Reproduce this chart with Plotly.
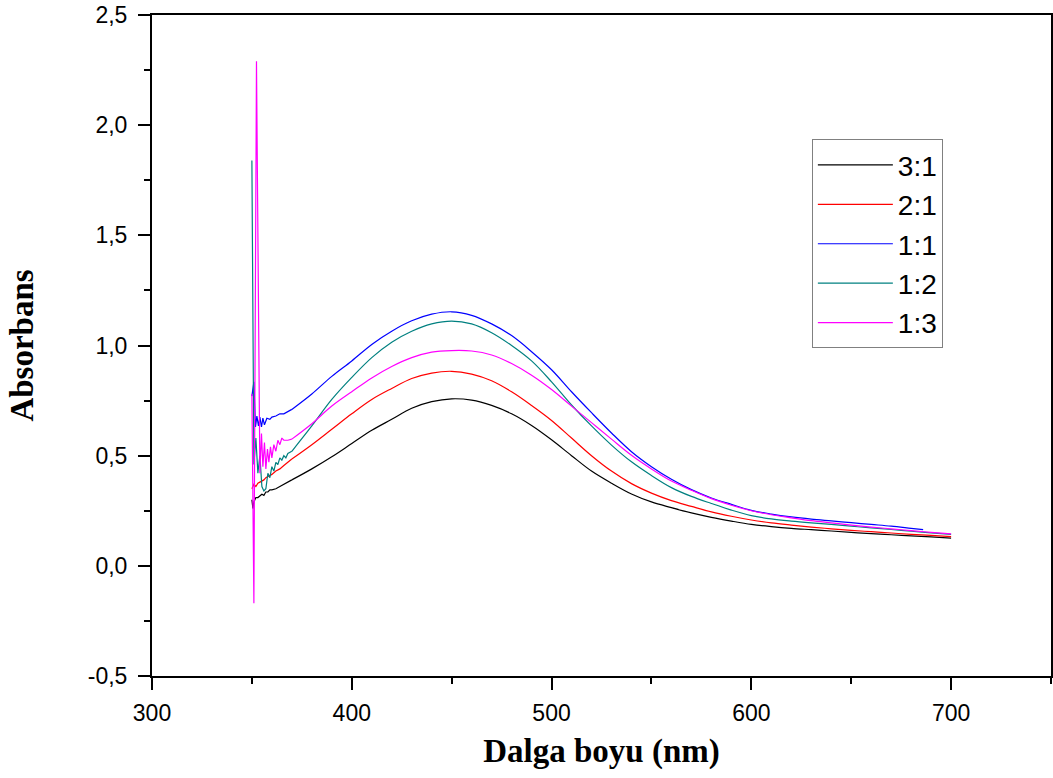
import plotly.graph_objects as go

# ---------------- data ----------------
series_names = ["3:1", "2:1", "1:1", "1:2", "1:3"]
series_colors = ["#000000", "#FF0000", "#0000FF", "#008080", "#FF00FF"]

# common wavelength grid for the smooth part (nm)
tail_wl = [370, 380, 390, 400, 410, 420, 430, 440, 450, 460, 470, 480, 490, 500,
           510, 520, 530, 540, 550, 560, 570, 580, 590, 600, 610, 620, 630, 640,
           650, 660, 670, 680, 690, 700]
blue_tail_wl = [370, 380, 390, 400, 410, 420, 430, 440, 450, 460, 470, 480, 490, 500,
                510, 520, 530, 540, 550, 560, 570, 580, 590, 600, 610, 620, 630, 640,
                650, 660, 670, 680, 686]

# 3:1
black_head_wl = [350, 350.5, 351, 352, 353, 354, 355, 356, 357, 358, 359, 360, 362, 364, 366, 368]
black_head = [0.30, 0.26, 0.29, 0.31, 0.31, 0.32, 0.325, 0.32, 0.335, 0.335, 0.345, 0.345, 0.35, 0.36, 0.37, 0.38]
black_tail = [0.39, 0.44, 0.495, 0.555, 0.615, 0.665, 0.715, 0.745, 0.758, 0.752, 0.728, 0.69,
              0.637, 0.572, 0.50, 0.43, 0.375, 0.326, 0.29, 0.264, 0.24, 0.22, 0.203, 0.188,
              0.178, 0.17, 0.164, 0.158, 0.152, 0.146, 0.141, 0.136, 0.131, 0.126]

# 2:1
red_head_wl = [350, 351, 352, 353, 354, 355, 356, 357, 358, 360, 362, 364, 366, 368]
red_head = [0.35, 0.37, 0.36, 0.375, 0.38, 0.385, 0.39, 0.40, 0.405, 0.415, 0.43, 0.44, 0.455, 0.47]
red_tail = [0.485, 0.55, 0.62, 0.69, 0.755, 0.805, 0.85, 0.875, 0.883, 0.87, 0.84, 0.79,
            0.728, 0.66, 0.58, 0.50, 0.43, 0.373, 0.33, 0.296, 0.27, 0.245, 0.225, 0.208,
            0.195, 0.185, 0.176, 0.168, 0.161, 0.155, 0.149, 0.143, 0.138, 0.133]

# 1:1
blue_head_wl = [350, 351, 351.8, 352.5, 353.3, 354, 354.8, 355.5, 356.3, 357.5, 359, 360, 362, 364, 366, 368]
blue_head = [0.77, 0.835, 0.63, 0.68, 0.635, 0.675, 0.63, 0.67, 0.64, 0.67, 0.665, 0.675, 0.68, 0.69, 0.69, 0.70]
blue_tail = [0.71, 0.78, 0.86, 0.93, 1.005, 1.065, 1.112, 1.142, 1.153, 1.137, 1.098, 1.045,
             0.972, 0.89, 0.79, 0.695, 0.603, 0.518, 0.45, 0.393, 0.346, 0.308, 0.279, 0.252,
             0.235, 0.222, 0.212, 0.204, 0.196, 0.188, 0.18, 0.17, 0.164]

# 1:2
teal_head_wl = [350, 351, 352, 353, 354, 355, 356, 357, 358, 359, 360, 361, 362, 363, 364, 365, 366, 367, 368]
teal_head = [1.84, 0.46, 0.58, 0.42, 0.50, 0.36, 0.34, 0.35, 0.42, 0.40, 0.45, 0.43, 0.47, 0.46, 0.49, 0.48, 0.50, 0.49, 0.51]
teal_tail = [0.52, 0.635, 0.755, 0.855, 0.945, 1.015, 1.065, 1.098, 1.111, 1.098, 1.058, 1.0,
             0.93, 0.835, 0.73, 0.635, 0.548, 0.472, 0.41, 0.355, 0.315, 0.283, 0.253, 0.228,
             0.213, 0.203, 0.195, 0.188, 0.18, 0.172, 0.165, 0.157, 0.15, 0.143]

# 1:3
pink_head_wl = [350, 351, 352.3, 354, 354.8, 355.5, 356.3, 357, 357.8, 358.5, 359.3, 360, 361, 362, 363, 364, 365, 366, 368]
pink_head = [0.78, -0.17, 2.29, 0.42, 0.60, 0.45, 0.56, 0.44, 0.53, 0.47, 0.54, 0.49, 0.55, 0.52, 0.57, 0.55, 0.58, 0.57, 0.57]
pink_tail = [0.575, 0.645, 0.725, 0.79, 0.853, 0.905, 0.945, 0.97, 0.977, 0.975, 0.957, 0.918,
             0.865, 0.80, 0.725, 0.65, 0.575, 0.502, 0.44, 0.385, 0.343, 0.305, 0.275, 0.25,
             0.232, 0.218, 0.205, 0.195, 0.185, 0.176, 0.168, 0.16, 0.152, 0.145]

x_tick_vals = [300, 400, 500, 600, 700]
y_tick_vals = [-0.5, 0.0, 0.5, 1.0, 1.5, 2.0, 2.5]
y_tick_text = ["-0,5", "0,0", "0,5", "1,0", "1,5", "2,0", "2,5"]

heads_x = [black_head_wl, red_head_wl, blue_head_wl, teal_head_wl, pink_head_wl]
heads_y = [black_head, red_head, blue_head, teal_head, pink_head]
tails_x = [tail_wl, tail_wl, blue_tail_wl, tail_wl, tail_wl]
tails_y = [black_tail, red_tail, blue_tail, teal_tail, pink_tail]

# ---------------- figure ----------------
fig = go.Figure()
for name, color, hx, hy, tx, ty in zip(series_names, series_colors, heads_x, heads_y, tails_x, tails_y):
    # smooth band: spline through the read points (carries the legend entry)
    fig.add_trace(go.Scatter(x=tx, y=ty, mode="lines", name=name, legendgroup=name,
                             showlegend=True,
                             line=dict(color=color, width=1.2, shape="spline", smoothing=1.0)))
    # noisy start of the scan: straight segments; joined to first smooth point
    fig.add_trace(go.Scatter(x=hx + tx[:1], y=hy + ty[:1], mode="lines", name=name,
                             legendgroup=name, showlegend=False,
                             line=dict(color=color, width=1.2)))

tick_font = dict(family="Liberation Sans, Arial, sans-serif", size=23, color="black")
title_font = dict(family="Liberation Serif, Times New Roman, serif", size=33, color="black", weight="bold")

fig.update_layout(
    width=1053, height=778,
    margin=dict(l=152, r=2, t=15, b=102),
    paper_bgcolor="white", plot_bgcolor="white",
    showlegend=True, hovermode=False,
    legend=dict(x=0.734, y=0.812, xanchor="left", yanchor="top",
                bgcolor="white", bordercolor="#808080", borderwidth=1,
                font=dict(family="Liberation Sans, Arial, sans-serif", size=28, color="black"),
                itemwidth=75, tracegroupgap=0),
)
fig.update_xaxes(
    range=[300, 750], tickvals=x_tick_vals, ticks="outside", ticklen=12, tickwidth=2,
    tickcolor="black", showline=True, linecolor="black", linewidth=2, mirror=True,
    showgrid=False, zeroline=False, tickfont=tick_font, automargin=False, ticklabelstandoff=3,
    minor=dict(dtick=50, tick0=300, ticks="outside", ticklen=6, tickwidth=2, tickcolor="black", showgrid=False),
    title=dict(text="Dalga boyu (nm)", font=title_font, standoff=14),
)
fig.update_yaxes(
    range=[-0.5, 2.5], tickvals=y_tick_vals, ticktext=y_tick_text, ticks="outside", ticklen=12,
    tickwidth=2, tickcolor="black", showline=True, linecolor="black", linewidth=2, mirror=True,
    showgrid=False, zeroline=False, tickfont=tick_font, automargin=False, ticklabelstandoff=6,
    minor=dict(dtick=0.25, tick0=0, ticks="outside", ticklen=6, tickwidth=2, tickcolor="black", showgrid=False),
    title=dict(text="Absorbans", font=title_font, standoff=44),
)

# remove the browser's default 8px body margin so the figure sits at the page origin
fig.write_html("out.html", config={"staticPlot": True, "displayModeBar": False},
               post_script="document.body.style.margin='0';")
